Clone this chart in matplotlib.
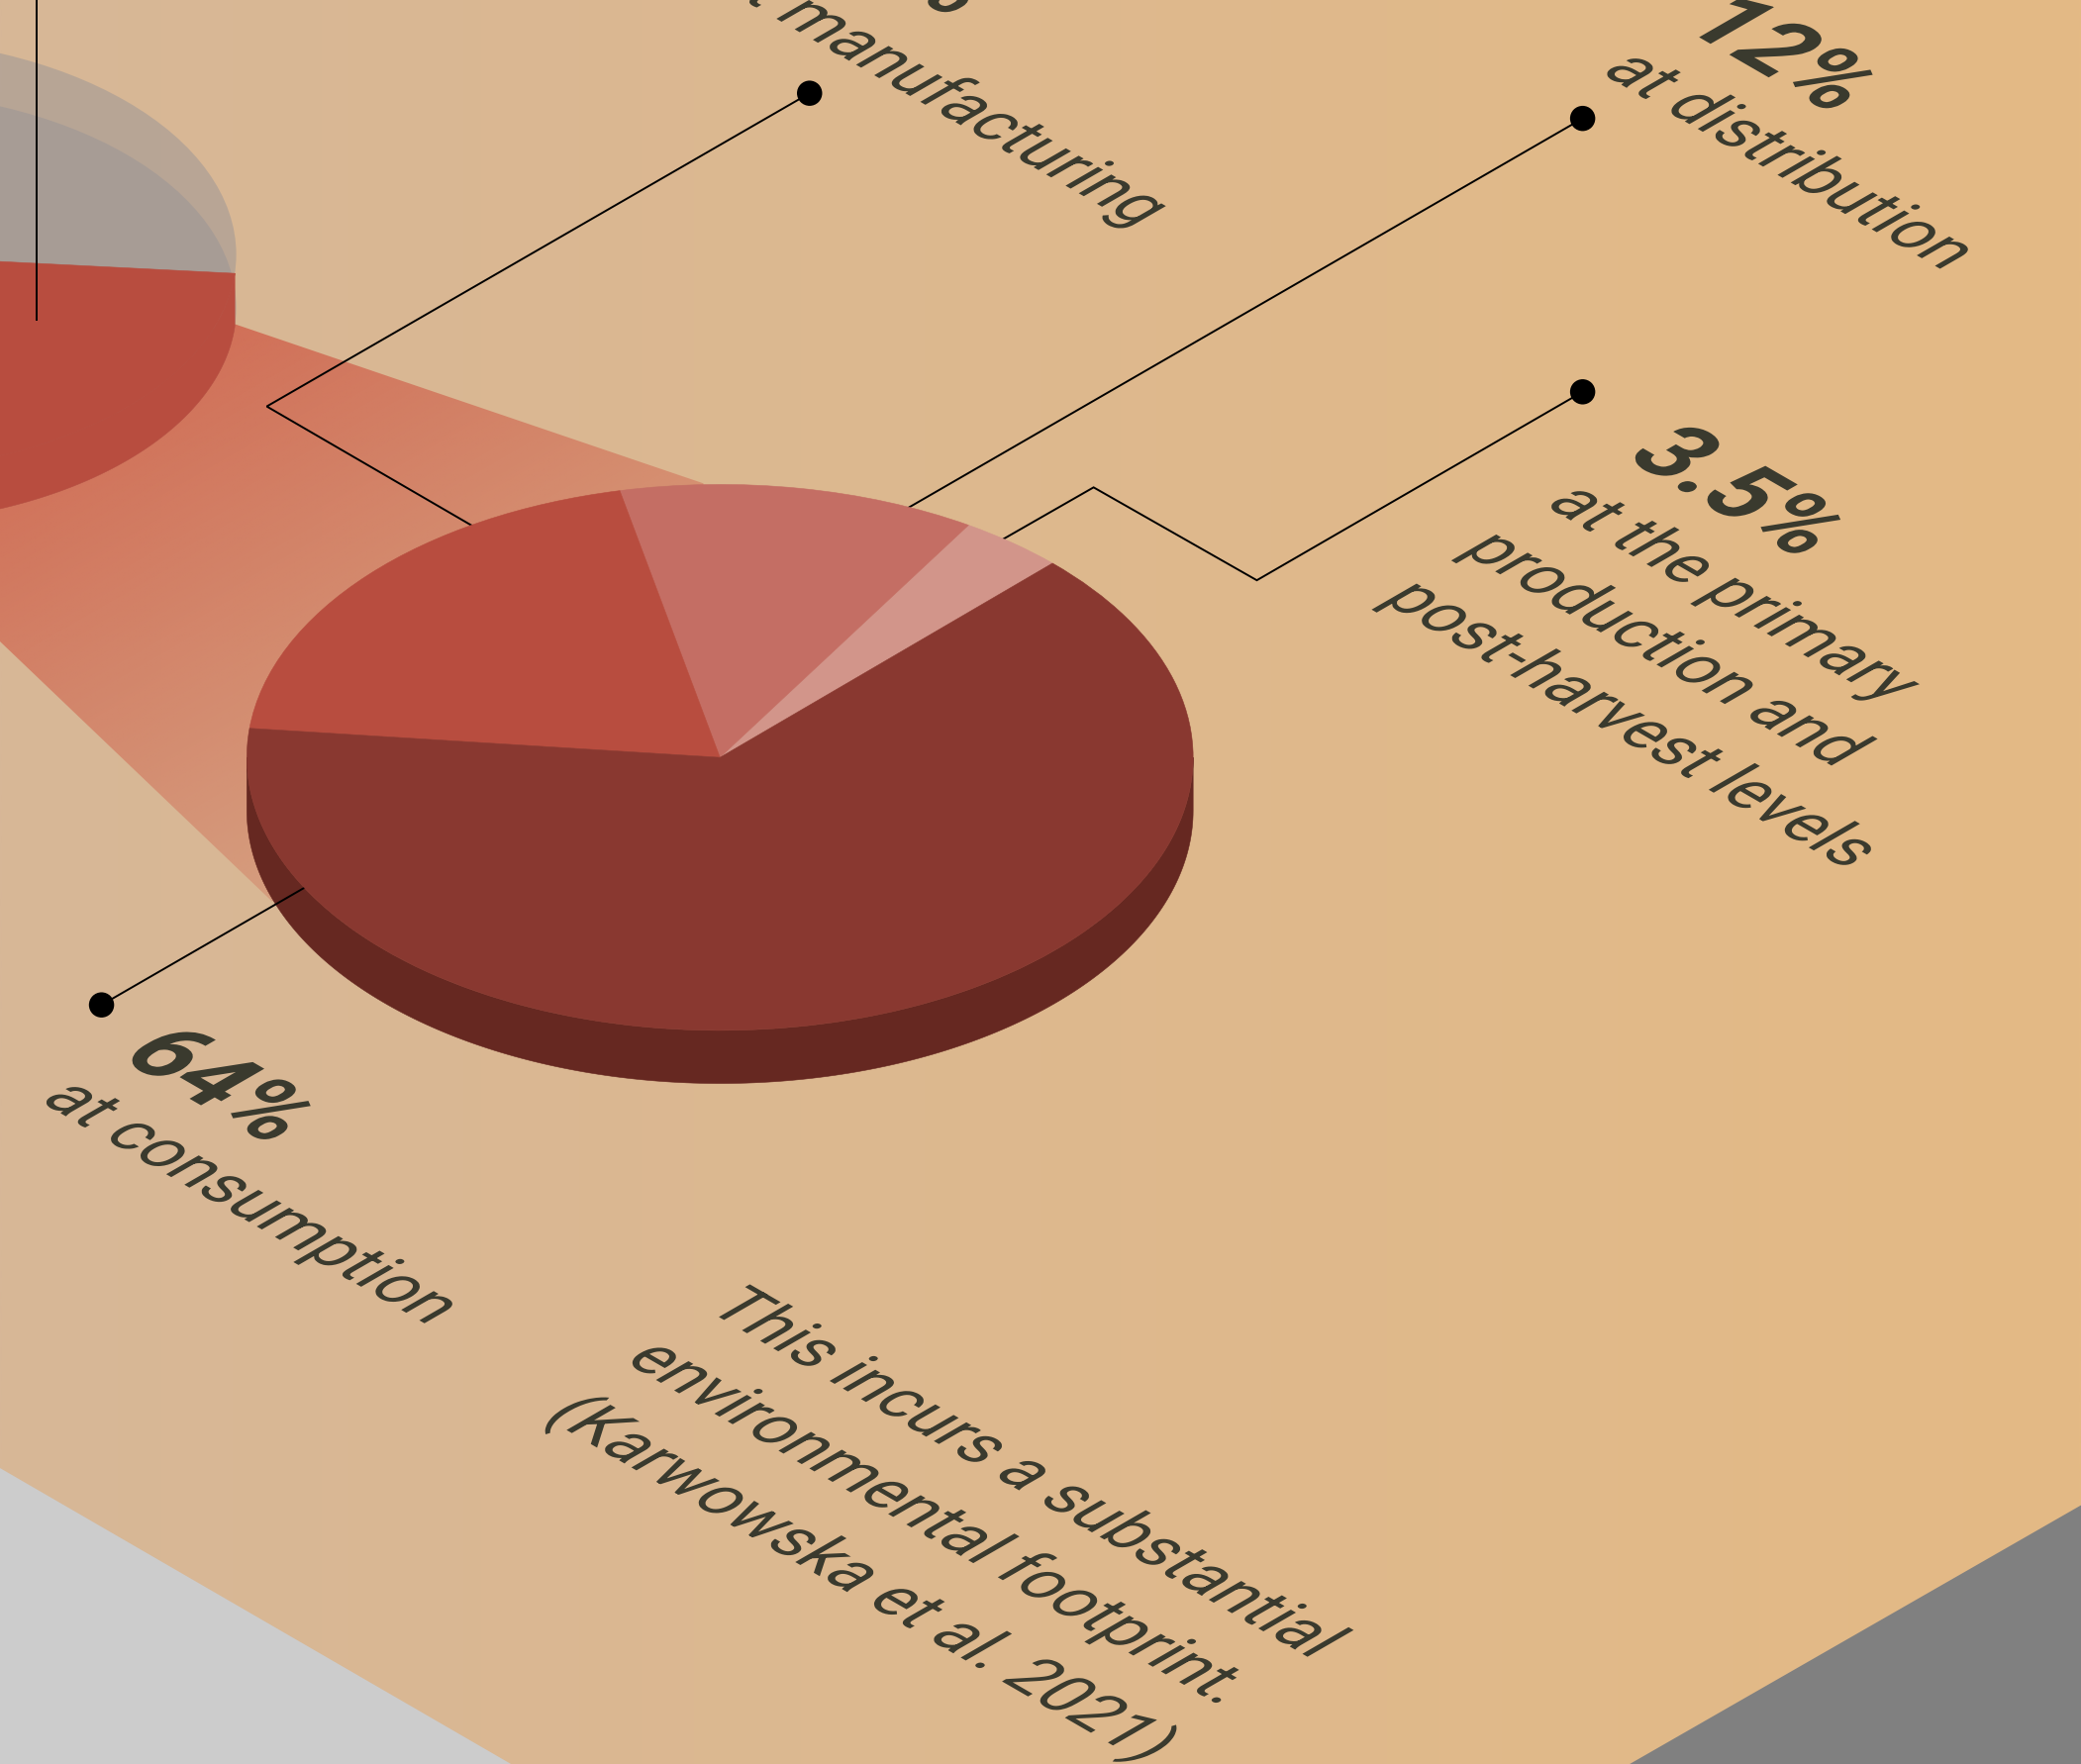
import numpy as np
import matplotlib
matplotlib.use("Agg")
import matplotlib.pyplot as plt
from matplotlib.patches import Wedge, Polygon, Ellipse
from matplotlib.transforms import Affine2D
from matplotlib.patheffects import AbstractPathEffect

W, H = 2102, 1783

# ---- data ----
stage_values = [3.6, 12.2, 19.9, 64.3]
stage_colors = ["#d2958a", "#c46e64", "#b84d3f", "#893830"]
stage_start_angle = 45.35
waste_values = [33, 67]
waste_start_angle = -5

number_labels = ["20%", "12%", "3.5%", "64%"]
manufacturing_label = "at manufacturing"
distribution_label = "at distribution"
primary_lines = ["at the primary", "production and", "post-harvest levels"]
consumption_label = "at consumption"
note_lines = ["This incurs a substantial", "environmental footprint.", "(Karwowska et al. 2021)"]

TEXT = "#3a3a2e"
RED = "#b84d3f"
DARK_SIDE = "#662821"
FONT = ["Roboto", "DejaVu Sans"]


class IsoShear(AbstractPathEffect):
    """Shears rotated text so its up-vector follows the +30 degree isometric axis."""
    def __init__(self, ax, xy, k=1.1):
        super().__init__()
        self.ax, self.xy, self.k = ax, xy, k

    def draw_path(self, renderer, gc, tpath, affine, rgbFace=None):
        c, s = np.cos(np.radians(30)), 0.5
        A = np.array([[c, self.k * c], [-s, self.k * s]])
        B = np.array([[c, s], [-s, c]])
        M = A @ np.linalg.inv(B)
        px, py = self.ax.transData.transform(self.xy)
        mat = np.eye(3)
        mat[:2, :2] = M
        shear = Affine2D().translate(-px, -py) + Affine2D(mat) + Affine2D().translate(px, py)
        renderer.draw_path(gc, tpath, affine + shear, rgbFace)


fig = plt.figure(figsize=(W / 100, H / 100), dpi=100)
ax = fig.add_axes([0, 0, 1, 1])
ax.set_xlim(0, 1568)
ax.set_ylim(1330, 0)
ax.axis("off")
EXT = (0, 1568, 1330, 0)

# background gradient
left, right = np.array([215, 183, 151]), np.array([228, 186, 133])
tt = np.linspace(0, 1, 512)[None, :, None]
bg = (left + (right - left) * tt) / 255.0
ax.imshow(bg, extent=EXT, aspect="auto", zorder=0, interpolation="bilinear")

# page corners
ax.add_patch(Polygon([(0, 1107), (385, 1330), (0, 1330)], fc="#cccccc", ec="none", zorder=1))
ax.add_patch(Polygon([(1228, 1330), (1568, 1135), (1568, 1330)], fc="#808080", ec="none", zorder=1))

# funnel
xx, yy = np.meshgrid(np.linspace(0, 1568, 400), np.linspace(0, 1330, 340))
t = np.clip((0.5 * xx + 0.87 * yy - 300) / 383.0, 0, 1.3)
rgba = np.zeros(xx.shape + (4,))
rgba[..., 0], rgba[..., 1], rgba[..., 2] = 209 / 255, 112 / 255, 88 / 255
rgba[..., 3] = np.clip(1 - 0.62 * t, 0, 1)
im = ax.imshow(rgba, extent=EXT, aspect="auto", zorder=2, interpolation="bilinear")
funnel = Polygon([(177, 245), (530, 365), (542, 570), (205, 680), (-20, 465), (-100, 300)],
                 transform=ax.transData, fc="none", ec="none")
ax.add_patch(funnel)
im.set_clip_path(funnel)


def unit(cx, cy, rx):
    return Affine2D().scale(rx, -rx * 0.577).translate(cx, cy) + ax.transData


def side(cx, cy, rx, h, a0, a1, color, z):
    th = np.radians(np.linspace(a0, a1, 200))
    x, y = cx + rx * np.cos(th), cy - rx * 0.577 * np.sin(th)
    pts = np.r_[np.c_[x, y], np.c_[x, y + h][::-1]]
    ax.add_patch(Polygon(pts, fc=color, ec=color, lw=0.4, zorder=z))


def pie(cx, cy, rx, values, colors, start, z):
    frac = np.asarray(values, float) / np.sum(values) * 360
    a = start
    for f, col in zip(frac, colors):
        ax.add_patch(Wedge((0, 0), 1, a, a + f, transform=unit(cx, cy, rx),
                           fc=col, ec=col, lw=0.4, zorder=z))
        a += f


# upper translucent pie
UCX, UCY, URX, UH = -105, 192.5, 283, 40
for dy in (0, UH):
    ax.add_patch(Ellipse((UCX, UCY + dy), 2 * URX, 2 * URX * 0.577, fc=(150 / 255, 147 / 255, 149 / 255, 0.48),
                         ec="none", zorder=3))
red_sweep = waste_values[0] / sum(waste_values) * 360
side(UCX, UCY, URX, UH, waste_start_angle - red_sweep, waste_start_angle, RED, 4)
ax.add_patch(Wedge((0, 0), 1, waste_start_angle - red_sweep, waste_start_angle,
                   transform=unit(UCX, UCY, URX), fc=RED, ec=RED, lw=0.4, zorder=4))

# main pie side
MCX, MCY, MRX, MH = 542.5, 571.5, 356.5, 40
side(MCX, MCY, MRX, MH, 180, 360, DARK_SIDE, 5)

# callouts between the pie's side and its top
LW = 1.4
for pts in [[(610, 71), (201, 307), (380, 411)],
            [(1192.5, 90), (640, 409)],
            [(1192.5, 296), (947, 438), (824, 368), (700, 439)],
            [(76.5, 758), (260, 652)]]:
    p = np.array(pts)
    ax.plot(p[:, 0], p[:, 1], color="black", lw=LW, zorder=6, solid_joinstyle="miter")
    ax.add_patch(Ellipse(pts[0], 19, 19, fc="black", ec="none", zorder=6))
ax.plot([27.3, 27.3], [0, 242], color="black", lw=LW, zorder=6)

# main pie top
pie(MCX, MCY, MRX, stage_values, stage_colors, stage_start_angle, 8)


def iso_text(x, y, s, size, bold=False, ha="left"):
    t = ax.text(x, y, s, fontsize=size, color=TEXT, family=FONT,
                fontweight="bold" if bold else "normal", rotation=-30,
                rotation_mode="anchor", ha=ha, va="baseline", zorder=10, clip_on=True)
    t.set_path_effects([IsoShear(ax, (x, y))])
    return t


BIG, SMALL = 68, 47
iso_text(716, 14, number_labels[0], BIG, True, ha="right")
iso_text(535, -14, manufacturing_label, SMALL)
iso_text(1265, 20, number_labels[1], BIG, True)
iso_text(1205, 55, distribution_label, SMALL)
iso_text(1223, 345, number_labels[2], BIG, True)
for (x, y), s in zip([(1163, 381), (1100, 416), (1040, 453)], primary_lines):
    iso_text(x, y, s, SMALL)
iso_text(88, 797, number_labels[3], BIG, True)
iso_text(29, 830, consumption_label, SMALL)
for (x, y), s in zip([(531, 987), (469, 1026), (409, 1068)], note_lines):
    iso_text(x, y, s, SMALL)

fig.savefig("out.png", dpi=100)
